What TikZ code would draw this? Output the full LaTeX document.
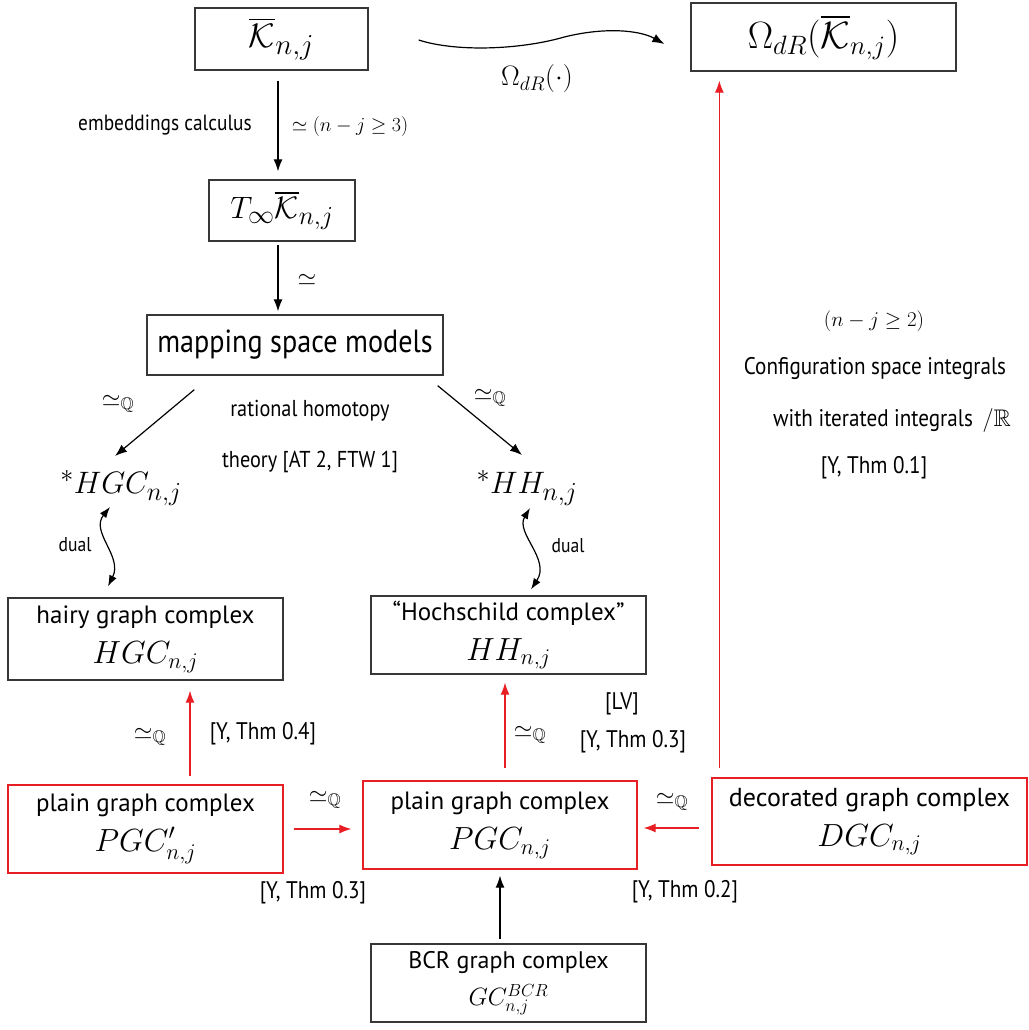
\RequirePackage{fix-cm}
\documentclass[tikz,border=0pt]{standalone}
\usepackage{amssymb}
\usepackage{fontspec}
\setsansfont{PT Sans}
\newfontfamily\condsans{PT Sans}[FakeStretch=0.88]
\usetikzlibrary{arrows.meta}
\DeclareMathSizes{34}{34}{29}{22}
\DeclareMathSizes{31}{31}{26}{19}
\definecolor{boxgray}{RGB}{55,55,55}
\definecolor{myred}{RGB}{232,30,37}
\begin{document}
\begin{tikzpicture}[x=1pt,y=-1pt,
  box/.style={draw=boxgray,line width=1.3pt,inner sep=0pt,align=center,font=\sffamily\fontsize{25}{40}\selectfont},
  rbox/.style={box,draw=myred},
  lab/.style={font=\condsans\fontsize{24}{28}\selectfont,inner sep=0pt,align=center},
  mlab/.style={font=\fontsize{24}{28}\selectfont,inner sep=0pt},
  arr/.style={line width=1.2pt,-{Latex[length=12pt,width=9pt]}},
  darr/.style={line width=1.2pt,{Latex[length=11pt,width=8pt]}-{Latex[length=11pt,width=8pt]}},
  rarr/.style={arr,myred}]
\useasboundingbox (0,0) rectangle (1028,1030);
\fill[white] (0,0) rectangle (1028,1030);

% boxes
\node[box,minimum width=173pt,minimum height=62pt] (K) at (281.5,39)
  {\fontsize{34}{38}\selectfont$\overline{\mathcal{K}}_{n,j}$};
\node[box,minimum width=265pt,minimum height=68pt] (om) at (823.5,37)
  {\fontsize{38}{42}\selectfont$\Omega_{dR}(\overline{\mathcal{K}}_{n,j})$};
\node[box,minimum width=146pt,minimum height=61pt] (T) at (282,210.5)
  {\fontsize{31}{36}\selectfont$T_\infty\overline{\mathcal{K}}_{n,j}$};
\node[box,minimum width=296pt,minimum height=60pt,font=\condsans\fontsize{32}{36}\selectfont] (map) at (295,345)
  {mapping space models};
\node[box,minimum width=275pt,minimum height=82pt] (hairy) at (145.5,639)
  {hairy graph complex\\\fontsize{32}{40}\selectfont$HGC_{n,j}$};
\node[box,minimum width=275pt,minimum height=78pt] (hoch) at (508.5,635)
  {``Hochschild complex''\\\fontsize{32}{40}\selectfont$HH_{n,j}$};
\node[rbox,minimum width=275pt,minimum height=88pt] (pgcp) at (145.5,829)
  {plain graph complex\\\fontsize{32}{40}\selectfont$PGC'_{n,j}$};
\node[rbox,minimum width=274pt,minimum height=88pt] (pgc) at (500,825)
  {plain graph complex\\\fontsize{32}{40}\selectfont$PGC_{n,j}$};
\node[rbox,minimum width=315pt,minimum height=87pt,font=\sffamily\fontsize{26}{40}\selectfont] (dgc) at (869.5,821.5)
  {decorated graph complex\\\fontsize{32}{40}\selectfont$DGC_{n,j}$};
\node[box,minimum width=275pt,minimum height=78pt,font=\sffamily\fontsize{24}{37}\selectfont] (bcr) at (508.5,983)
  {BCR graph complex\\\fontsize{25}{37}\selectfont$GC^{BCR}_{n,j}$};

% free math nodes
\node[inner sep=0pt,font=\fontsize{31}{34}\selectfont] (hgcs) at (121,488) {$^{*}HGC_{n,j}$};
\node[inner sep=0pt,font=\fontsize{31}{34}\selectfont] (hhs) at (527,488) {$^{*}HH_{n,j}$};

% labels
\node[inner sep=0pt,font=\fontsize{28}{32}\selectfont] (omlab) at (537,79) {$\Omega_{dR}(\cdot)$};
\node[lab,font=\condsans\fontsize{22}{26}\selectfont] (l1) at (165,125) {embeddings calculus};
\node[mlab,font=\fontsize{20}{24}\selectfont] (l2) at (350,127) {$\simeq(n-j\geq 3)$};
\node[mlab] (l3) at (307,280) {$\simeq$};
\node[mlab] (l4) at (118,404) {$\simeq_{\mathbb{Q}}$};
\node[mlab] (l5) at (490,398) {$\simeq_{\mathbb{Q}}$};
\node[lab,font=\condsans\fontsize{23}{26}\selectfont] (l6) at (310,411) {rational homotopy};
\node[lab,font=\condsans\fontsize{23}{26}\selectfont] (l7) at (310,462) {theory [AT 2, FTW 1]};
\node[lab,font=\condsans\fontsize{20}{24}\selectfont] (l8) at (75,545) {dual};
\node[lab,font=\condsans\fontsize{20}{24}\selectfont] (l9) at (568,546) {dual};
\node[mlab,font=\fontsize{21}{26}\selectfont] (l10) at (874,321) {$(n-j\geq 2)$};
\node[lab] (l11) at (875,368) {Configuration space integrals};
\node[lab] (l12) at (892,420) {with iterated integrals \fontsize{24}{28}\selectfont$\,/\mathbb{R}$};
\node[lab] (l13) at (874,468) {[Y, Thm 0.1]};
\node[mlab] (l14) at (150,737) {$\simeq_{\mathbb{Q}}$};
\node[lab] (l15) at (263,734) {[Y, Thm 0.4]};
\node[mlab] (l16) at (325,800) {$\simeq_{\mathbb{Q}}$};
\node[lab] (l17) at (313,893) {[Y, Thm 0.3]};
\node[mlab] (l18) at (530,735) {$\simeq_{\mathbb{Q}}$};
\node[lab] (l19) at (622,704) {[LV]};
\node[lab] (l20) at (633,742) {[Y, Thm 0.3]};
\node[mlab] (l21) at (672,802) {$\simeq_{\mathbb{Q}}$};
\node[lab] (l22) at (685,892) {[Y, Thm 0.2]};

% connectors
\draw[arr] ([xshift=50pt,yshift=-1pt]K.east) .. controls +(37,12) and +(-45,13) .. ([xshift=-126pt]om.west)
  .. controls +(40,-10) and +(-25,-14) .. ([xshift=-26pt,yshift=-7pt]om.west);
\draw[arr] ([xshift=-3.5pt,yshift=-10pt]K.south) -- ([xshift=-4pt,yshift=8pt]T.north);
\draw[arr] ([xshift=-4pt,yshift=-3pt]T.south) -- ([xshift=-17pt,yshift=3pt]map.north);
\draw[arr] ([xshift=48pt,yshift=-14pt]map.south west) -- ([xshift=-6pt,yshift=32pt]hgcs.center);
\draw[arr] ([xshift=-6pt,yshift=-10pt]map.south east) -- ([xshift=-5pt,yshift=33pt]hhs.center);
\draw[darr] ([xshift=-11pt,yshift=-19pt]hgcs.center) .. controls +(-20,25) and +(15,-30) .. ([xshift=-37.5pt,yshift=11pt]hairy.north);
\draw[darr] ([xshift=3pt,yshift=-20pt]hhs.center) .. controls +(-15,25) and +(20,-30) .. ([xshift=22.5pt,yshift=6pt]hoch.north);
\draw[rarr] ([xshift=44.5pt,yshift=8pt]pgcp.north) -- ([xshift=44.5pt,yshift=-10pt]hairy.south);
\draw[rarr] ([xshift=10pt]pgcp.east) -- ([xshift=-11pt,yshift=-4pt]pgc.west);
\draw[rarr] ([xshift=5pt,yshift=12pt]pgc.north) -- ([xshift=-3.5pt,yshift=-8pt]hoch.south);
\draw[rarr] ([xshift=-12pt,yshift=-6.5pt]dgc.west) -- ([xshift=6pt,yshift=-3pt]pgc.east);
\draw[rarr] ([xshift=8pt,yshift=9pt]dgc.north west) -- ([xshift=29pt,yshift=-9pt]om.south west);
\draw[arr] ([xshift=-8.5pt,yshift=4pt]bcr.north) -- ([yshift=-6pt]pgc.south);
\end{tikzpicture}
\end{document}
